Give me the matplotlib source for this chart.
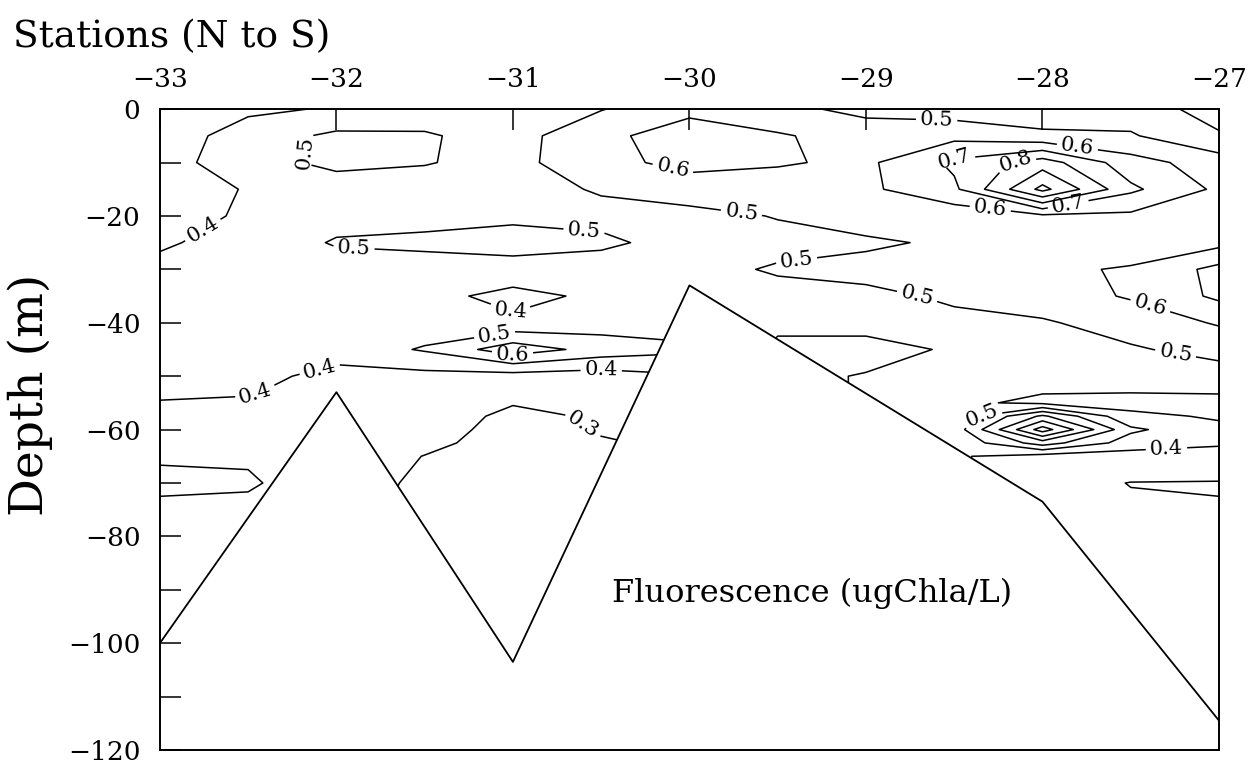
"""Fluorescence section along the station line, contoured above the bottom profile."""

import numpy as np
import matplotlib
matplotlib.use("Agg")
import matplotlib.pyplot as plt
from matplotlib.path import Path
from matplotlib.patches import PathPatch
from matplotlib.ticker import MultipleLocator

# grid of stations (deg) and depths (m)
stations = [-33, -32.5, -32, -31.5, -31, -30.5, -30, -29.5, -29, -28.5, -28, -27.5, -27]
depths = [0, -5, -10, -15, -20, -25, -30, -35, -40, -45, -50, -52.5, -55,
          -57.5, -60, -62.5, -65, -70, -75, -90, -120]

# fluorescence (ugChla/L), one row per depth, one column per station
fluorescence = [
    [0.33, 0.38, 0.41, 0.45, 0.45, 0.495, 0.58, 0.53, 0.47, 0.45, 0.44, 0.45, 0.36],
    [0.34, 0.45, 0.52, 0.51, 0.46, 0.58, 0.64, 0.61, 0.56, 0.57, 0.52, 0.51, 0.41],
    [0.35, 0.47, 0.52, 0.505, 0.47, 0.57, 0.63, 0.61, 0.58, 0.72, 0.85, 0.64, 0.55],
    [0.36, 0.405, 0.46, 0.46, 0.46, 0.51, 0.55, 0.55, 0.58, 0.68, 1.03, 0.72, 0.58],
    [0.37, 0.41, 0.46, 0.47, 0.48, 0.47, 0.47, 0.505, 0.56, 0.54, 0.58, 0.58, 0.55],
    [0.39, 0.43, 0.51, 0.52, 0.54, 0.52, 0.46, 0.47, 0.48, 0.52, 0.55, 0.54, 0.57],
    [0.42, 0.43, 0.45, 0.46, 0.46, 0.45, 0.47, 0.51, 0.54, 0.55, 0.58, 0.61, 0.73],
    [0.44, 0.44, 0.44, 0.43, 0.37, 0.42, 0.45, 0.47, 0.47, 0.52, 0.55, 0.61, 0.72],
    [0.45, 0.44, 0.44, 0.44, 0.42, 0.45, 0.45, 0.42, 0.43, 0.47, 0.49, 0.54, 0.61],
    [0.46, 0.45, 0.44, 0.51, 0.66, 0.56, 0.52, 0.38, 0.37, 0.41, 0.46, 0.49, 0.53],
    [0.45, 0.43, 0.37, 0.37, 0.36, 0.35, 0.39, 0.38, 0.405, 0.44, 0.43, 0.44, 0.46],
    [0.42, 0.41, 0.36, 0.36, 0.33, 0.34, 0.36, 0.38, 0.405, 0.43, 0.41, 0.41, 0.41],
    [0.395, 0.39, 0.36, 0.355, 0.305, 0.33, 0.33, 0.38, 0.405, 0.42, 0.38, 0.37, 0.38],
    [0.37, 0.38, 0.36, 0.345, 0.28, 0.31, 0.32, 0.38, 0.405, 0.42, 0.72, 0.42, 0.39],
    [0.36, 0.38, 0.36, 0.335, 0.27, 0.305, 0.31, 0.38, 0.405, 0.44, 0.95, 0.52, 0.42],
    [0.37, 0.39, 0.36, 0.32, 0.265, 0.295, 0.31, 0.38, 0.405, 0.42, 0.65, 0.45, 0.41],
    [0.39, 0.39, 0.35, 0.298, 0.26, 0.29, 0.31, 0.38, 0.405, 0.41, 0.36, 0.36, 0.37],
    [0.42, 0.41, 0.35, 0.28, 0.25, 0.28, 0.31, 0.38, 0.41, 0.41, 0.33, 0.298, 0.295],
    [0.38, 0.38, 0.34, 0.27, 0.25, 0.28, 0.32, 0.38, 0.41, 0.41, 0.33, 0.31, 0.305],
    [0.36, 0.37, 0.34, 0.27, 0.25, 0.28, 0.32, 0.38, 0.41, 0.41, 0.33, 0.33, 0.32],
    [0.36, 0.37, 0.34, 0.27, 0.25, 0.28, 0.32, 0.38, 0.41, 0.41, 0.33, 0.33, 0.32],
]

levels = [0.3, 0.4, 0.5, 0.6, 0.7, 0.8, 0.9, 1.0]

# bottom profile
bottom_lon = [-33, -32, -31, -30, -28, -27]
bottom_depth = [-100, -53, -103.5, -33, -73.5, -114.5]

x_ticks = [-33, -32, -31, -30, -29, -28, -27]
y_ticks = [0, -20, -40, -60, -80, -100, -120]


def main():
    plt.rcParams["font.family"] = "DejaVu Serif"

    fig = plt.figure(figsize=(12.49, 7.74), dpi=100)
    ax = fig.add_axes([0.128, 0.031, 0.848, 0.828])
    ax.set_xlim(-33, -27)
    ax.set_ylim(-120, 0)

    # water column above the bottom line
    verts = [(-33, 0), (-27, 0)] + list(zip(bottom_lon[::-1], bottom_depth[::-1]))
    water = Path(verts + [verts[0]], closed=True)
    clip = PathPatch(water, transform=ax.transData, facecolor="none", edgecolor="none")

    cs = ax.contour(stations, depths, np.array(fluorescence), levels=levels,
                    colors="black", linewidths=1.1)

    # where the labels sit on the reference plot
    label_spots = [
        (-32.2, -8), (-32.75, -23), (-31.9, -25.5), (-30.6, -24),
        (-31.0, -36.5), (-31.1, -43.0), (-31.0, -45.4), (-30.5, -48.5),
        (-32.1, -48), (-32.45, -54), (-30.6, -59),
        (-29.7, -18), (-29.4, -26.5), (-28.7, -33.5), (-27.25, -46.5),
        (-30.1, -12), (-28.6, -2.5), (-27.8, -6.5),
        (-28.5, -8.5), (-28.15, -10.5),
        (-28.3, -19.8), (-27.85, -18.7), (-27.4, -38),
        (-28.35, -56), (-27.3, -62),
    ]
    texts = ax.clabel(cs, fmt="%.1f", fontsize=15, inline=True,
                      inline_spacing=4, manual=label_spots)
    cs.set_clip_path(clip)
    for t in texts:
        if not water.contains_point(t.get_position()):
            t.set_visible(False)

    ax.plot(bottom_lon, bottom_depth, color="black", lw=1.3)

    ax.xaxis.tick_top()
    ax.set_xticks(x_ticks)
    ax.set_yticks(y_ticks)
    ax.yaxis.set_minor_locator(MultipleLocator(10))
    ax.tick_params(axis="x", direction="in", length=15, width=1.1, pad=12,
                   labelsize=19, top=True, bottom=False)
    ax.tick_params(axis="y", which="both", direction="in", length=15, width=1.1,
                   pad=14, labelsize=19, left=True, right=False)
    for s in ax.spines.values():
        s.set_linewidth(1.4)

    fig.text(13 / 1249, 1 - 47 / 774, "Stations (N to S)", fontsize=27,
             ha="left", va="baseline")
    fig.text(30 / 1249, 1 - 395 / 774, "Depth (m)", fontsize=34,
             rotation=90, ha="center", va="center")
    fig.text(612 / 1249, 1 - 602 / 774, "Fluorescence (ugChla/L)", fontsize=23,
             ha="left", va="baseline")

    fig.savefig("out.png", dpi=100)


if __name__ == "__main__":
    main()
